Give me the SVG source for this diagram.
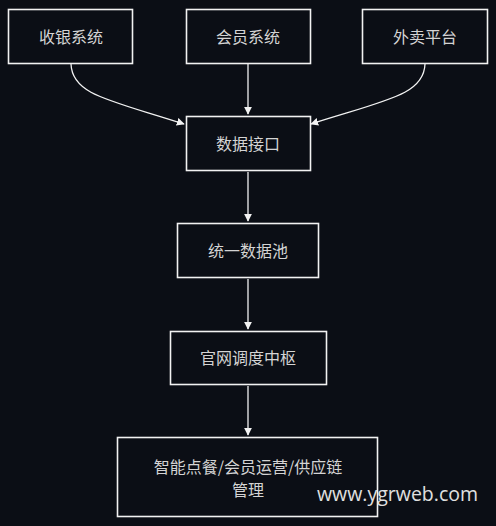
<svg xmlns="http://www.w3.org/2000/svg" width="496" height="526" viewBox="0 0 496 526">
<style>
.box{fill:#0b0e15;stroke:#f2f2f2;stroke-width:1.6}
.lbl{font-family:"Noto Sans CJK SC","Noto Sans",sans-serif;font-size:16px;fill:#d4d4d4;text-anchor:middle;dominant-baseline:central}
.edge{fill:none;stroke:#f2f2f2;stroke-width:1.3}
.wm{font-family:"Open Sans","DejaVu Sans",sans-serif;font-size:19.5px;fill:#e0e0e0}
</style>
<defs>
<marker id="ah" viewBox="0 0 10 10" refX="9" refY="5" markerWidth="8" markerHeight="8" orient="auto" markerUnits="userSpaceOnUse">
<path d="M0,0 L10,5 L0,10 Z" fill="#f2f2f2"/>
</marker>
</defs>
<rect width="496" height="526" fill="#0b0e15"/>
<g id="connectors">
<path class="edge" d="M71,64 C72,95 110,100 184,124" marker-end="url(#ah)"/>
<path class="edge" d="M248,64 L248,114" marker-end="url(#ah)"/>
<path class="edge" d="M425,64 C424,95 386,100 311,124" marker-end="url(#ah)"/>
<path class="edge" d="M248,172 L248,221" marker-end="url(#ah)"/>
<path class="edge" d="M248,279 L248,329" marker-end="url(#ah)"/>
<path class="edge" d="M248,386 L248,435" marker-end="url(#ah)"/>
</g>
<g id="n1"><rect class="box" x="8.5" y="9.5" width="124" height="54"/><text class="lbl" x="71" y="36">收银系统</text></g>
<g id="n2"><rect class="box" x="186.5" y="9.5" width="124" height="54"/><text class="lbl" x="248" y="36">会员系统</text></g>
<g id="n3"><rect class="box" x="362.5" y="9.5" width="125" height="54"/><text class="lbl" x="425" y="36">外卖平台</text></g>
<g id="n4"><rect class="box" x="186.5" y="116.5" width="124" height="54"/><text class="lbl" x="248" y="143">数据接口</text></g>
<g id="n5"><rect class="box" x="177.5" y="223.5" width="141" height="54"/><text class="lbl" x="248" y="250">统一数据池</text></g>
<g id="n6"><rect class="box" x="170.5" y="331.5" width="156" height="53"/><text class="lbl" x="248" y="357">官网调度中枢</text></g>
<g id="n7"><rect class="box" x="117.5" y="437.5" width="260" height="79"/><text class="lbl" x="248" y="466">智能点餐/会员运营/供应链</text><text class="lbl" x="248" y="489">管理</text></g>
<text class="wm" x="317" y="501">www.ygrweb.com</text>
</svg>
